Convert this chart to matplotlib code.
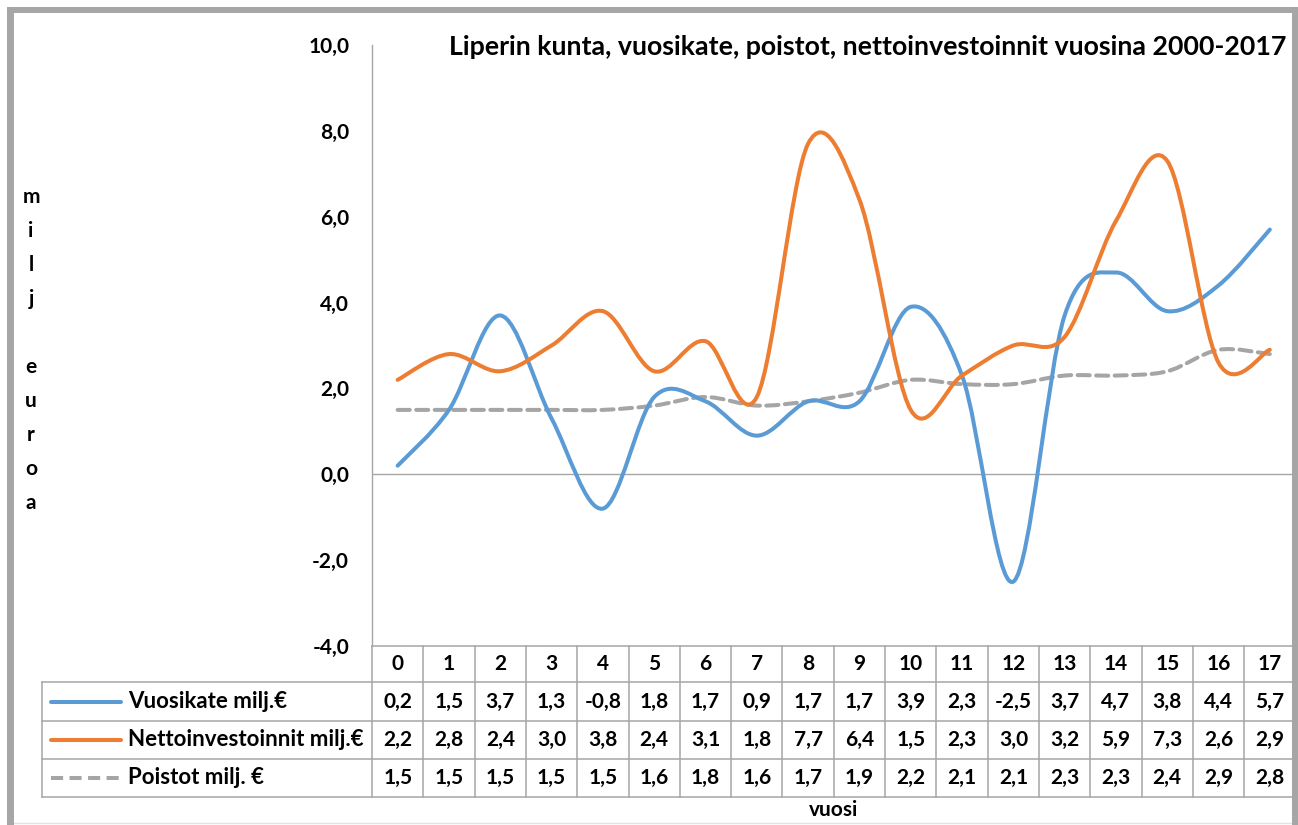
import numpy as np
import matplotlib
matplotlib.use("Agg")
import matplotlib.pyplot as plt
from matplotlib.path import Path
from matplotlib.patches import PathPatch, Rectangle
from matplotlib.lines import Line2D
from matplotlib.transforms import blended_transform_factory

plt.rcParams['font.family'] = ['Lato', 'DejaVu Sans']

# ---------------- data ----------------
years = list(range(18))
vuosikate = [0.2, 1.5, 3.7, 1.3, -0.8, 1.8, 1.7, 0.9, 1.7, 1.7, 3.9, 2.3, -2.5, 3.7, 4.7, 3.8, 4.4, 5.7]
nettoinv = [2.2, 2.8, 2.4, 3.0, 3.8, 2.4, 3.1, 1.8, 7.7, 6.4, 1.5, 2.3, 3.0, 3.2, 5.9, 7.3, 2.6, 2.9]
poistot = [1.5, 1.5, 1.5, 1.5, 1.5, 1.6, 1.8, 1.6, 1.7, 1.9, 2.2, 2.1, 2.1, 2.3, 2.3, 2.4, 2.9, 2.8]
series_names = ["Vuosikate milj.€", "Nettoinvestoinnit milj.€", "Poistot milj. €"]
title = "Liperin kunta, vuosikate, poistot, nettoinvestoinnit vuosina 2000-2017"
x_label = "vuosi"
y_label = "milj euroa"
y_ticks = [-4, -2, 0, 2, 4, 6, 8, 10]

colors = ["#5B9BD5", "#ED7D31", "#A5A5A5"]
grid_col = "#A6A6A6"

W, H = 1298, 825
fig = plt.figure(figsize=(W / 100, H / 100), dpi=100)
fig.patch.set_facecolor("white")


def fx(p):
    return p / W


def fy(p):
    return 1 - p / H


ax_l, ax_r, ax_t, ax_b = 372, 1295.5, 45, 646
ax = fig.add_axes([fx(ax_l), fy(ax_b), fx(ax_r - ax_l), (ax_b - ax_t) / H])
ax.set_xlim(-0.5, len(years) - 0.5)
ax.set_ylim(-4, 10)
for s in ["top", "right", "bottom"]:
    ax.spines[s].set_visible(False)
ax.spines["left"].set_color(grid_col)
ax.spines["left"].set_linewidth(1.0)
ax.axhline(0, color=grid_col, lw=1.0, zorder=1)
ax.set_xticks([])
ax.set_yticks(y_ticks)
ax.set_yticklabels([f"{v:.1f}".replace(".", ",") for v in y_ticks],
                   fontsize=15, fontweight="bold")
ax.tick_params(axis="y", length=0, pad=16.5)
ax.patch.set_alpha(0)


def smooth_path(xs, ys):
    P = np.column_stack([xs, ys]).astype(float)
    n = len(P)
    Pm = np.vstack([P[0], P, P[-1]])
    verts = [P[0]]
    codes = [Path.MOVETO]
    for i in range(n - 1):
        p0, p1, p2, p3 = Pm[i], Pm[i + 1], Pm[i + 2], Pm[i + 3]
        c1 = p1 + (p2 - p0) / 6.0
        c2 = p2 - (p3 - p1) / 6.0
        verts += [c1, c2, p2]
        codes += [Path.CURVE4] * 3
    return Path(verts, codes)


lw = 2.9
series = [vuosikate, nettoinv, poistot]
styles = ["-", "-", (0, (3.0, 1.6))]
for vals, c, ls, z in zip(series, colors, styles, [4, 4, 3]):
    pp = PathPatch(smooth_path(years, vals), fill=False, edgecolor=c, lw=lw,
                   linestyle=ls, transform=ax.transData, zorder=z,
                   capstyle="round", joinstyle="round")
    ax.add_patch(pp)

# title
fig.text(fx(1286), fy(47), title, ha="right", va="center",
         fontsize=19.3, fontweight="bold")

# y label stacked letters
for i, ch in enumerate(y_label):
    if ch == " ":
        continue
    fig.text(fx(31), fy(197 + 34.0 * i), ch, ha="center", va="center",
             fontsize=15, fontweight="bold")

# ---------------- data table ----------------
tr = blended_transform_factory(ax.transData, fig.transFigure)
row_top = [646, 682, 721, 759, 797]
tbl_left = 42


def hline(x0, x1, y, trans=fig.transFigure):
    fig.add_artist(Line2D([x0, x1], [y, y], transform=trans, color=grid_col, lw=1.1))


# horizontal lines
hline(fx(ax_l), fx(ax_r), fy(row_top[0]))
for yy in row_top[1:]:
    hline(fx(tbl_left), fx(ax_r), fy(yy))
# vertical lines at category boundaries
for k in range(len(years) + 1):
    fig.add_artist(Line2D([k - 0.5, k - 0.5], [fy(row_top[0]), fy(row_top[-1])],
                          transform=tr, color=grid_col, lw=1.1))
fig.add_artist(Line2D([fx(tbl_left), fx(tbl_left)], [fy(row_top[1]), fy(row_top[-1])],
                      transform=fig.transFigure, color=grid_col, lw=1.1))

# header labels
yc = fy((row_top[0] + row_top[1]) / 2)
for yr in years:
    fig.text(yr, yc, str(yr), transform=tr, ha="center", va="center",
             fontsize=15, fontweight="bold")

for r, (vals, name, c, ls) in enumerate(zip(series, series_names, colors, styles)):
    ycen = fy((row_top[r + 1] + row_top[r + 2]) / 2)
    for yr, v in zip(years, vals):
        fig.text(yr, ycen, f"{v:.1f}".replace(".", ","), transform=tr,
                 ha="center", va="center", fontsize=15, fontweight="bold")
    fig.add_artist(Line2D([fx(51), fx(121)], [ycen, ycen], transform=fig.transFigure,
                          color=c, lw=lw, linestyle=ls, solid_capstyle="round",
                          dash_capstyle="butt"))
    fig.text(fx(128), ycen, name, ha="left", va="center", fontsize=16,
             fontweight="bold")

# x label
fig.text(fx((ax_l + ax_r) / 2), fy(810), x_label, ha="center", va="center",
         fontsize=15, fontweight="bold")

# outer frame
frame_c = "#A6A6A6"
for (x0, y0, x1, y1) in [(7, 7, 14, 825), (7, 7, 1298, 13), (1292, 7, 1298, 825)]:
    fig.add_artist(Rectangle((fx(x0), fy(y1)), fx(x1 - x0), (y1 - y0) / H,
                             transform=fig.transFigure, color=frame_c, lw=0, zorder=10))
fig.add_artist(Line2D([fx(14), fx(1292)], [fy(822.5), fy(822.5)], transform=fig.transFigure,
                      color="#E3E3E3", lw=1.0))

fig.savefig("out.png", dpi=100)
